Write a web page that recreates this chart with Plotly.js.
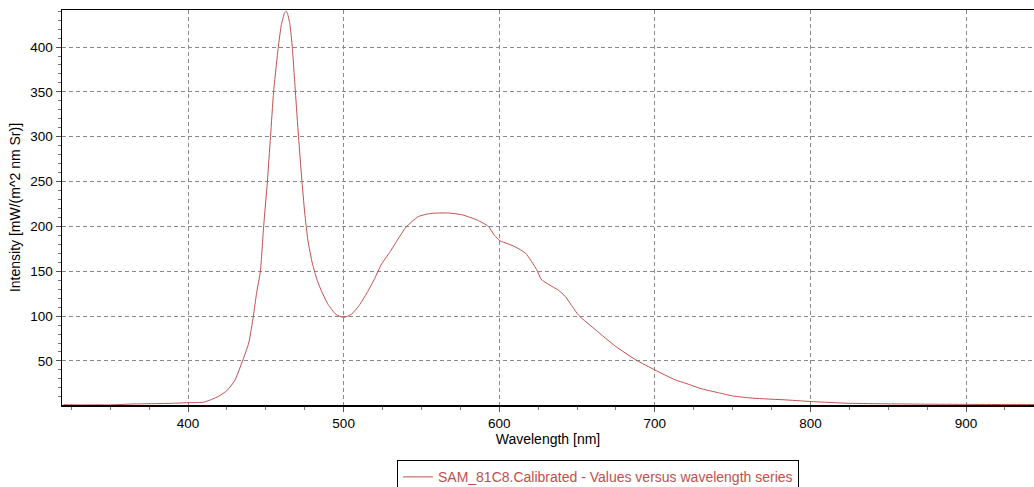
<!DOCTYPE html>
<html>
<head>
<meta charset="utf-8">
<script src="https://cdn.plot.ly/plotly-3.0.1.min.js"></script>
<style>html,body{margin:0;padding:0;background:#fff;}#chart{width:1034px;height:487px;}</style>
</head>
<body>
<div id="chart"></div>
<script>
const seriesName = "SAM_81C8.Calibrated - Values versus wavelength series";
const wavelength = [320, 330, 340, 350, 364, 370, 380, 390, 400, 405, 410, 415, 420, 425, 430, 435, 439, 442, 444, 446.5, 448.6, 451, 453, 455, 458, 460, 462, 463, 464, 465.5, 467, 469, 471, 473, 475, 477, 480, 483, 486, 490, 495, 500, 505, 510, 515, 520, 524, 530, 535, 540, 548, 556, 567, 576, 586, 593, 597, 600.5, 605, 610, 617, 624, 627, 632, 638, 642.5, 651, 662, 675, 688, 700, 713, 720, 729, 741, 750, 763, 785, 802, 825, 850, 875, 900, 925, 947];
const intensity = [1.2, 1.0, 1.1, 1.0, 2.0, 2.2, 2.5, 2.8, 3.5, 3.6, 4, 7, 11, 17, 28, 50, 70, 100, 125, 150, 200, 250, 300, 350, 400, 425, 438, 440, 437, 425, 400, 350, 300, 255, 215, 185, 158, 140, 127, 113, 102, 98.5, 102, 112, 126, 142, 157, 172, 186, 199, 211, 214.5, 215, 213, 207, 200, 190, 184, 181, 177.5, 170, 152, 141, 135, 129, 121.8, 101, 84.6, 66, 51, 40, 29, 25, 19.5, 14.5, 11, 8.5, 6.5, 4.6, 2.8, 2.2, 1.8, 1.6, 1.4, 1.3];
const xTickVals = [400, 500, 600, 700, 800, 900];
const yTickVals = [50, 100, 150, 200, 250, 300, 350, 400];

const lineColor = '#c0504d';
const fam = 'Liberation Sans, Arial, sans-serif';
const trace = {
  x: wavelength, y: intensity, type: 'scatter', mode: 'lines',
  name: seriesName,
  line: {color: lineColor, width: 1, shape: 'spline', smoothing: 0.5}
};
const tickFont = {family: fam, size: 13.5, color: '#000'};
const layout = {
  width: 1034, height: 487,
  margin: {l: 62, r: 0, t: 10, b: 82, autoexpand: false},
  paper_bgcolor: '#fff', plot_bgcolor: '#fff',
  font: {family: fam, size: 14, color: '#000'},
  showlegend: true,
  legend: {
    x: 0.5514, xanchor: 'center', y: -0.14, yanchor: 'top',
    orientation: 'h', bordercolor: '#000', borderwidth: 1,
    font: {family: fam, size: 14, color: lineColor},
    bgcolor: '#fff'
  },
  xaxis: {
    range: [319, 943.7], tickvals: xTickVals, ticktext: xTickVals.map(String),
    showline: true, linecolor: '#000', linewidth: 1.5, mirror: true,
    ticks: 'outside', ticklen: 5, tickcolor: '#555',
    showgrid: true, gridcolor: '#8a8a8a', griddash: '4px,3px', gridwidth: 1,
    minor: {dtick: 25, tick0: 0, ticks: 'outside', ticklen: 3, tickcolor: '#777', showgrid: false},
    zeroline: false, tickfont: tickFont,
    title: {text: 'Wavelength [nm]', font: {family: fam, size: 14, color: '#000'}, standoff: 3}
  },
  yaxis: {
    range: [0.9, 441.3], tickvals: yTickVals, ticktext: yTickVals.map(String),
    showline: true, linecolor: '#000', linewidth: 1.5,
    ticks: 'outside', ticklen: 5, tickcolor: '#555',
    showgrid: true, gridcolor: '#8a8a8a', griddash: '4px,3px', gridwidth: 1,
    minor: {dtick: 10, tick0: 0, ticks: 'outside', ticklen: 3, tickcolor: '#777', showgrid: false},
    zeroline: false, tickfont: tickFont,
    title: {text: 'Intensity [mW/(m^2 nm Sr)]', font: {family: fam, size: 14, color: '#000'}, standoff: 6}
  }
};
Plotly.newPlot('chart', [trace], layout, {displayModeBar: false, staticPlot: true});
</script>
</body>
</html>
